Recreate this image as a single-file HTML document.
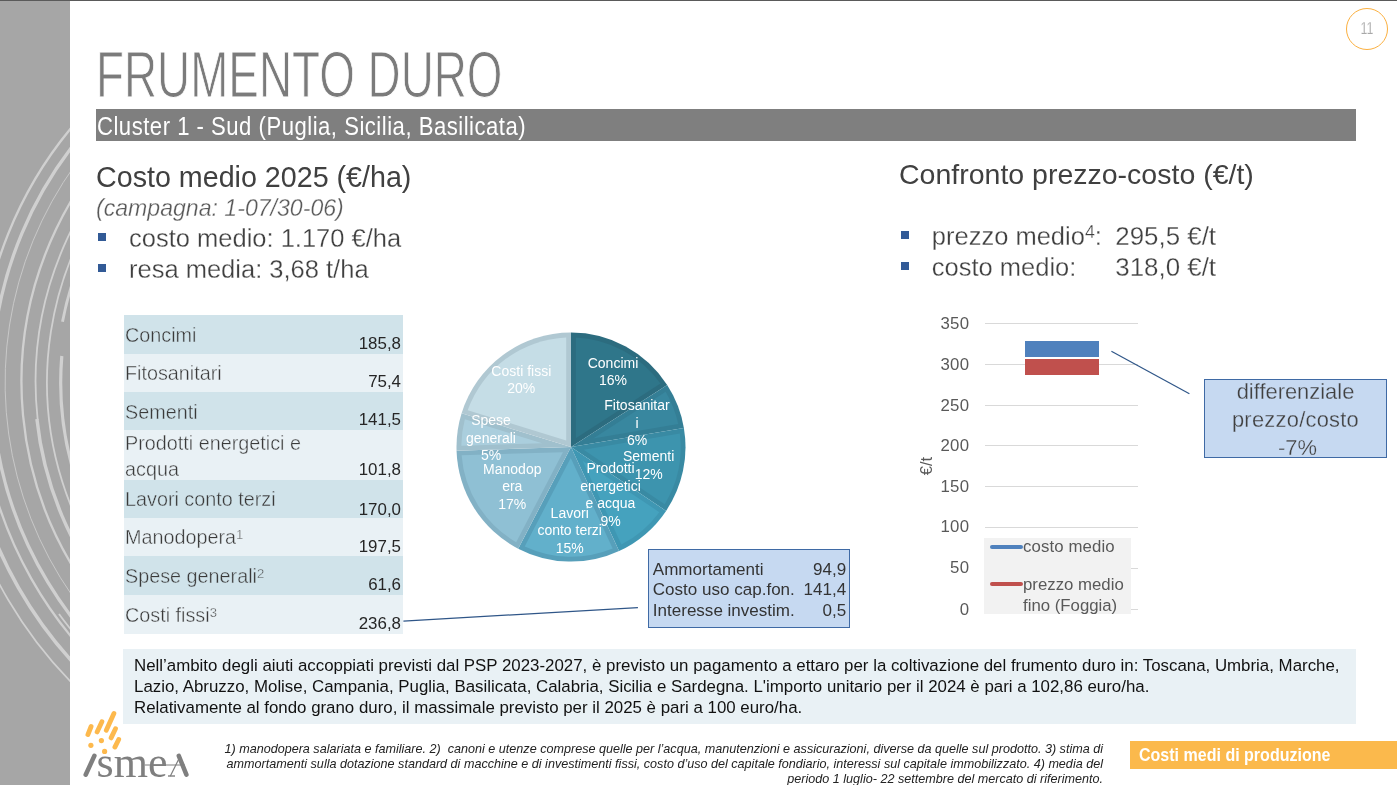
<!DOCTYPE html>
<html lang="it"><head><meta charset="utf-8"><title>Frumento duro</title>
<style>
html,body{margin:0;padding:0;background:#fff;}
body{width:1397px;height:785px;position:relative;overflow:hidden;font-family:"Liberation Sans",sans-serif;}
.t{position:absolute;white-space:pre;margin:0;}
.b{position:absolute;}
sup{font-size:66%;vertical-align:baseline;position:relative;top:-0.36em;}
</style></head><body>

<div class="b" style="left:0;top:0;width:70px;height:785px;background:#a6a6a6;"></div>
<svg class="b" style="left:0;top:0" width="70" height="785" viewBox="0 0 70 785" fill="none" stroke="#d0d0d0">
<path d="M96.8,100.0 A398.3,398.3 0 0 0 137.6,700.0" stroke-width="2.3"/>
<path d="M114.8,100.0 A385.8,385.8 0 0 0 158.9,700.0" stroke-width="3.3"/>
<path d="M134.5,100.0 A372.7,372.7 0 0 0 182.9,700.0" stroke-width="0.8"/>
<path d="M160.4,100.0 A356.3,356.3 0 0 0 216.5,700.0" stroke-width="2.3"/>
<path d="M184.4,100.0 A342.2,342.2 0 0 0 37.7,420.0" stroke-width="1.8"/>
<path d="M36.9,419.0 A342.9,342.9 0 0 0 112.9,600.0" stroke-width="3.4"/>
<path d="M205.4,100.0 A330.8,330.8 0 0 0 128.7,600.0" stroke-width="1.8"/>
<path d="M113.5,200.0 A321.1,321.1 0 0 0 62.5,321.7" stroke-width="2.9"/>
<path d="M61.8,356.0 A317.1,317.1 0 0 0 83.4,500.0" stroke-width="3.2"/>
<path d="M-30.5,450.0 A413.9,413.9 0 0 0 112.5,700.0" stroke-width="3.6"/>
<path d="M-45.7,450.0 A428.9,428.9 0 0 0 113.4,720.0" stroke-width="1.7"/>
<path d="M59.0,614.0 A394.1,394.1 0 0 0 98.2,660.0" stroke-width="1.8"/>
</svg>
<div class="b" style="left:0;top:0;width:1397px;height:1px;background:#5a5a5a;"></div>
<div class="b" style="left:1346px;top:7.5px;width:40px;height:40px;border:1.2px solid #fbb040;border-radius:50%;"></div>
<div class="t" style="top:21.23px;font-size:15.8px;line-height:15.8px;color:#808080;left:1066.9px;width:600px;text-align:center;transform:scaleX(0.8);-webkit-text-stroke:0.4px #fff;">11</div>
<div class="t" style="top:42.95px;font-size:64.2px;line-height:64.2px;color:#7b7b7b;left:96px;transform-origin:0 0;transform:scaleX(0.714);-webkit-text-stroke:1.0px #fff;">FRUMENTO DURO</div>
<div class="b" style="left:96px;top:109px;width:1260px;height:32px;background:#7f7f7f;"></div>
<div class="t" style="top:112.59px;font-size:26px;line-height:26px;color:#fff;left:97.2px;transform-origin:0 0;transform:scaleX(0.85);letter-spacing:0.59px;">Cluster 1 - Sud (Puglia, Sicilia, Basilicata)</div>
<div class="t" style="top:163.03px;font-size:28.67px;line-height:28.67px;color:#404040;left:96px;">Costo medio 2025 (€/ha)</div>
<div class="t" style="top:197.15px;font-size:23.1px;line-height:23.1px;color:#595959;left:96px;font-style:italic;-webkit-text-stroke:0.28px #fff;">(campagna: 1-07/30-06)</div>
<div class="b" style="left:98.2px;top:233px;width:8px;height:8px;background:#325a96;"></div>
<div class="b" style="left:98.2px;top:264px;width:8px;height:8px;background:#325a96;"></div>
<div class="t" style="top:225.71px;font-size:25.5px;line-height:25.5px;color:#404040;left:129px;-webkit-text-stroke:0.28px #fff;">costo medio: 1.170 €/ha</div>
<div class="t" style="top:256.91px;font-size:25.5px;line-height:25.5px;color:#404040;left:129px;-webkit-text-stroke:0.28px #fff;">resa media: 3,68 t/ha</div>
<div class="b" style="left:124px;top:315px;width:279px;height:39px;background:#d0e3ea;"></div>
<div class="t" style="top:326.44px;font-size:19.8px;line-height:19.8px;color:#3a3a3a;left:125px;-webkit-text-stroke:0.4px #d0e3ea;">Concimi</div>
<div class="t" style="top:336.39px;font-size:16.9px;line-height:16.9px;color:#262626;right:996px;text-align:right;">185,8</div>
<div class="b" style="left:124px;top:354px;width:279px;height:38px;background:#e9f1f5;"></div>
<div class="t" style="top:364.24px;font-size:19.8px;line-height:19.8px;color:#3a3a3a;left:125px;-webkit-text-stroke:0.4px #e9f1f5;">Fitosanitari</div>
<div class="t" style="top:374.39px;font-size:16.9px;line-height:16.9px;color:#262626;right:996px;text-align:right;">75,4</div>
<div class="b" style="left:124px;top:392px;width:279px;height:38px;background:#d0e3ea;"></div>
<div class="t" style="top:403.44px;font-size:19.8px;line-height:19.8px;color:#3a3a3a;left:125px;-webkit-text-stroke:0.4px #d0e3ea;">Sementi</div>
<div class="t" style="top:412.39px;font-size:16.9px;line-height:16.9px;color:#262626;right:996px;text-align:right;">141,5</div>
<div class="b" style="left:124px;top:430px;width:279px;height:50px;background:#e9f1f5;"></div>
<div class="t" style="top:434.34px;font-size:19.8px;line-height:19.8px;color:#3a3a3a;left:125px;-webkit-text-stroke:0.4px #e9f1f5;">Prodotti energetici e</div>
<div class="t" style="top:459.54px;font-size:19.8px;line-height:19.8px;color:#3a3a3a;left:125px;-webkit-text-stroke:0.4px #e9f1f5;">acqua</div>
<div class="t" style="top:462.29px;font-size:16.9px;line-height:16.9px;color:#262626;right:996px;text-align:right;">101,8</div>
<div class="b" style="left:124px;top:480px;width:279px;height:38px;background:#d0e3ea;"></div>
<div class="t" style="top:490.04px;font-size:19.8px;line-height:19.8px;color:#3a3a3a;left:125px;-webkit-text-stroke:0.4px #d0e3ea;">Lavori conto terzi</div>
<div class="t" style="top:501.69px;font-size:16.9px;line-height:16.9px;color:#262626;right:996px;text-align:right;">170,0</div>
<div class="b" style="left:124px;top:518px;width:279px;height:38px;background:#e9f1f5;"></div>
<div class="t" style="top:528.04px;font-size:19.8px;line-height:19.8px;color:#3a3a3a;left:125px;-webkit-text-stroke:0.4px #e9f1f5;">Manodopera<sup>1</sup></div>
<div class="t" style="top:539.49px;font-size:16.9px;line-height:16.9px;color:#262626;right:996px;text-align:right;">197,5</div>
<div class="b" style="left:124px;top:556px;width:279px;height:39px;background:#d0e3ea;"></div>
<div class="t" style="top:566.84px;font-size:19.8px;line-height:19.8px;color:#3a3a3a;left:125px;-webkit-text-stroke:0.4px #d0e3ea;">Spese generali<sup>2</sup></div>
<div class="t" style="top:577.29px;font-size:16.9px;line-height:16.9px;color:#262626;right:996px;text-align:right;">61,6</div>
<div class="b" style="left:124px;top:595px;width:279px;height:38.5px;background:#e9f1f5;"></div>
<div class="t" style="top:605.84px;font-size:19.8px;line-height:19.8px;color:#3a3a3a;left:125px;-webkit-text-stroke:0.4px #e9f1f5;">Costi fissi<sup>3</sup></div>
<div class="t" style="top:615.79px;font-size:16.9px;line-height:16.9px;color:#262626;right:996px;text-align:right;">236,8</div>
<svg class="b" style="left:440px;top:320px" width="270" height="260" viewBox="440 320 270 260">
<path d="M571.0,447.1 L571.00,332.60 A114.5,114.5 0 0 1 667.19,384.99 Z" fill="#2c6c7f"/>
<path d="M575.80,438.29 L575.80,337.51 A109.7,109.7 0 0 1 660.47,383.62 Z" fill="#2f768a"/>
<path d="M571.0,447.1 L667.19,384.99 A114.5,114.5 0 0 1 683.88,427.89 Z" fill="#347e95"/>
<path d="M593.26,438.44 L665.67,391.68 A109.7,109.7 0 0 1 678.24,423.98 Z" fill="#38879f"/>
<path d="M571.0,447.1 L683.88,427.89 A114.5,114.5 0 0 1 666.08,510.90 Z" fill="#398aa3"/>
<path d="M583.66,449.81 L679.85,433.45 A109.7,109.7 0 0 1 664.68,504.19 Z" fill="#3d94ae"/>
<path d="M571.0,447.1 L666.08,510.90 A114.5,114.5 0 0 1 619.07,551.02 Z" fill="#3f97b3"/>
<path d="M582.55,460.63 L659.33,512.16 A109.7,109.7 0 0 1 621.37,544.55 Z" fill="#45a2be"/>
<path d="M571.0,447.1 L619.07,551.02 A114.5,114.5 0 0 1 518.19,548.69 Z" fill="#579fba"/>
<path d="M570.75,457.99 L612.65,548.58 A109.7,109.7 0 0 1 524.71,546.55 Z" fill="#62b0cb"/>
<path d="M571.0,447.1 L518.19,548.69 A114.5,114.5 0 0 1 456.56,450.66 Z" fill="#82b1c5"/>
<path d="M562.96,452.15 L516.19,542.13 A109.7,109.7 0 0 1 461.61,455.31 Z" fill="#8fc0d4"/>
<path d="M571.0,447.1 L456.56,450.66 A114.5,114.5 0 0 1 461.60,413.31 Z" fill="#a0c0cd"/>
<path d="M542.10,443.20 L461.31,445.71 A109.7,109.7 0 0 1 464.87,419.35 Z" fill="#aacedd"/>
<path d="M571.0,447.1 L461.60,413.31 A114.5,114.5 0 0 1 571.00,332.60 Z" fill="#b0c8d2"/>
<path d="M566.20,440.59 L467.70,410.17 A109.7,109.7 0 0 1 566.20,337.51 Z" fill="#c5dde6"/>
</svg>
<div class="t" style="top:355.95px;font-size:14px;line-height:14px;color:#fff;left:313px;width:600px;text-align:center;">Concimi</div>
<div class="t" style="top:373.45px;font-size:14px;line-height:14px;color:#fff;left:313px;width:600px;text-align:center;">16%</div>
<div class="t" style="top:398.05px;font-size:14px;line-height:14px;color:#fff;left:337px;width:600px;text-align:center;">Fitosanitar</div>
<div class="t" style="top:415.55px;font-size:14px;line-height:14px;color:#fff;left:337px;width:600px;text-align:center;">i</div>
<div class="t" style="top:433.05px;font-size:14px;line-height:14px;color:#fff;left:337px;width:600px;text-align:center;">6%</div>
<div class="t" style="top:449.05px;font-size:14px;line-height:14px;color:#fff;left:348.70000000000005px;width:600px;text-align:center;">Sementi</div>
<div class="t" style="top:466.55px;font-size:14px;line-height:14px;color:#fff;left:348.70000000000005px;width:600px;text-align:center;">12%</div>
<div class="t" style="top:461.15px;font-size:14px;line-height:14px;color:#fff;left:310.5px;width:600px;text-align:center;">Prodotti</div>
<div class="t" style="top:478.65px;font-size:14px;line-height:14px;color:#fff;left:310.5px;width:600px;text-align:center;">energetici</div>
<div class="t" style="top:496.15px;font-size:14px;line-height:14px;color:#fff;left:310.5px;width:600px;text-align:center;">e acqua</div>
<div class="t" style="top:513.65px;font-size:14px;line-height:14px;color:#fff;left:310.5px;width:600px;text-align:center;">9%</div>
<div class="t" style="top:505.75px;font-size:14px;line-height:14px;color:#fff;left:269.70000000000005px;width:600px;text-align:center;">Lavori</div>
<div class="t" style="top:523.25px;font-size:14px;line-height:14px;color:#fff;left:269.70000000000005px;width:600px;text-align:center;">conto terzi</div>
<div class="t" style="top:540.75px;font-size:14px;line-height:14px;color:#fff;left:269.70000000000005px;width:600px;text-align:center;">15%</div>
<div class="t" style="top:461.65px;font-size:14px;line-height:14px;color:#fff;left:212.29999999999995px;width:600px;text-align:center;">Manodop</div>
<div class="t" style="top:479.15px;font-size:14px;line-height:14px;color:#fff;left:212.29999999999995px;width:600px;text-align:center;">era</div>
<div class="t" style="top:496.65px;font-size:14px;line-height:14px;color:#fff;left:212.29999999999995px;width:600px;text-align:center;">17%</div>
<div class="t" style="top:413.15px;font-size:14px;line-height:14px;color:#fff;left:191px;width:600px;text-align:center;">Spese</div>
<div class="t" style="top:430.65px;font-size:14px;line-height:14px;color:#fff;left:191px;width:600px;text-align:center;">generali</div>
<div class="t" style="top:448.15px;font-size:14px;line-height:14px;color:#fff;left:191px;width:600px;text-align:center;">5%</div>
<div class="t" style="top:363.95px;font-size:14px;line-height:14px;color:#fff;left:221.29999999999995px;width:600px;text-align:center;">Costi fissi</div>
<div class="t" style="top:381.45px;font-size:14px;line-height:14px;color:#fff;left:221.29999999999995px;width:600px;text-align:center;">20%</div>
<svg class="b" style="left:400px;top:600px" width="250" height="30" viewBox="400 600 250 30"><line x1="403.4" y1="621.1" x2="637.9" y2="607.6" stroke="#2f5688" stroke-width="1.2"/></svg>
<div class="b" style="left:648px;top:549px;width:201.5px;height:79px;background:#c6d9f1;border:1px solid #3f6aa5;box-sizing:border-box;"></div>
<div class="t" style="top:560.57px;font-size:17.05px;line-height:17.05px;color:#333;left:652.8px;">Ammortamenti</div>
<div class="t" style="top:560.57px;font-size:17.05px;line-height:17.05px;color:#333;right:550.8px;text-align:right;">94,9</div>
<div class="t" style="top:581.47px;font-size:17.05px;line-height:17.05px;color:#333;left:652.8px;">Costo uso cap.fon.</div>
<div class="t" style="top:581.47px;font-size:17.05px;line-height:17.05px;color:#333;right:550.8px;text-align:right;">141,4</div>
<div class="t" style="top:602.37px;font-size:17.05px;line-height:17.05px;color:#333;left:652.8px;">Interesse investim.</div>
<div class="t" style="top:602.37px;font-size:17.05px;line-height:17.05px;color:#333;right:550.8px;text-align:right;">0,5</div>
<div class="t" style="top:160.07px;font-size:28.5px;line-height:28.5px;color:#404040;left:899px;">Confronto prezzo-costo (€/t)</div>
<div class="b" style="left:900.9px;top:231.2px;width:7.8px;height:7.8px;background:#325a96;"></div>
<div class="b" style="left:900.9px;top:262.0px;width:7.8px;height:7.8px;background:#325a96;"></div>
<div class="t" style="top:224.11px;font-size:25.5px;line-height:25.5px;color:#404040;left:931.8px;-webkit-text-stroke:0.28px #fff;">prezzo medio<sup style="font-size:70%;top:-0.4em">4</sup>:</div>
<div class="t" style="top:223.78px;font-size:25.9px;line-height:25.9px;color:#404040;left:1115.3px;-webkit-text-stroke:0.28px #fff;">295,5 €/t</div>
<div class="t" style="top:255.31px;font-size:25.5px;line-height:25.5px;color:#404040;left:931.8px;-webkit-text-stroke:0.28px #fff;">costo medio:</div>
<div class="t" style="top:254.98px;font-size:25.9px;line-height:25.9px;color:#404040;left:1115.3px;-webkit-text-stroke:0.28px #fff;">318,0 €/t</div>
<div class="b" style="left:985px;top:322.7px;width:153px;height:1px;background:#d9d9d9;"></div>
<div class="t" style="top:315.98px;font-size:16.8px;line-height:16.8px;color:#595959;right:427.70000000000005px;text-align:right;letter-spacing:0.3px;">350</div>
<div class="b" style="left:985px;top:363.6px;width:153px;height:1px;background:#d9d9d9;"></div>
<div class="t" style="top:356.88px;font-size:16.8px;line-height:16.8px;color:#595959;right:427.70000000000005px;text-align:right;letter-spacing:0.3px;">300</div>
<div class="b" style="left:985px;top:404.5px;width:153px;height:1px;background:#d9d9d9;"></div>
<div class="t" style="top:397.78px;font-size:16.8px;line-height:16.8px;color:#595959;right:427.70000000000005px;text-align:right;letter-spacing:0.3px;">250</div>
<div class="b" style="left:985px;top:445.4px;width:153px;height:1px;background:#d9d9d9;"></div>
<div class="t" style="top:437.68px;font-size:16.8px;line-height:16.8px;color:#595959;right:427.70000000000005px;text-align:right;letter-spacing:0.3px;">200</div>
<div class="b" style="left:985px;top:486.3px;width:153px;height:1px;background:#d9d9d9;"></div>
<div class="t" style="top:478.58px;font-size:16.8px;line-height:16.8px;color:#595959;right:427.70000000000005px;text-align:right;letter-spacing:0.3px;">150</div>
<div class="b" style="left:985px;top:527.2px;width:153px;height:1px;background:#d9d9d9;"></div>
<div class="t" style="top:519.48px;font-size:16.8px;line-height:16.8px;color:#595959;right:427.70000000000005px;text-align:right;letter-spacing:0.3px;">100</div>
<div class="b" style="left:985px;top:568.1px;width:153px;height:1px;background:#d9d9d9;"></div>
<div class="t" style="top:560.38px;font-size:16.8px;line-height:16.8px;color:#595959;right:427.70000000000005px;text-align:right;letter-spacing:0.3px;">50</div>
<div class="b" style="left:985px;top:609.0px;width:153px;height:1px;background:#d9d9d9;"></div>
<div class="t" style="top:602.28px;font-size:16.8px;line-height:16.8px;color:#595959;right:427.70000000000005px;text-align:right;letter-spacing:0.3px;">0</div>
<div class="t" style="left:897px;top:456px;width:60px;height:20px;font-size:16.6px;line-height:20px;color:#595959;text-align:center;transform:rotate(-90deg);">€/t</div>
<div class="b" style="left:1025px;top:340.7px;width:74px;height:16.3px;background:#4f81bd;"></div>
<div class="b" style="left:1025px;top:359px;width:74px;height:16px;background:#c0504d;"></div>
<div class="b" style="left:984px;top:537.7px;width:147px;height:76.2px;background:#f2f2f2;"></div>
<div class="b" style="left:990px;top:545px;width:33px;height:3.8px;border-radius:2px;background:#4f81bd;"></div>
<div class="b" style="left:990px;top:582px;width:33px;height:3.8px;border-radius:2px;background:#c0504d;"></div>
<div class="t" style="top:538.78px;font-size:16.8px;line-height:16.8px;color:#595959;left:1023px;letter-spacing:0.12px;">costo medio</div>
<div class="t" style="top:576.98px;font-size:16.8px;line-height:16.8px;color:#595959;left:1023px;">prezzo medio</div>
<div class="t" style="top:597.88px;font-size:16.8px;line-height:16.8px;color:#595959;left:1023px;">fino (Foggia)</div>
<svg class="b" style="left:1100px;top:340px" width="100" height="60" viewBox="1100 340 100 60"><line x1="1111.4" y1="351.3" x2="1189.4" y2="393.8" stroke="#2f5688" stroke-width="1.2"/></svg>
<div class="b" style="left:1204px;top:379px;width:183px;height:79px;background:#c6d9f1;border:1px solid #3f6aa5;box-sizing:border-box;"></div>
<div class="t" style="top:381.16px;font-size:21.9px;line-height:21.9px;color:#404040;left:995.5px;width:600px;text-align:center;-webkit-text-stroke:0.3px #c6d9f1;">differenziale</div>
<div class="t" style="top:409.26px;font-size:21.9px;line-height:21.9px;color:#404040;left:995.5px;width:600px;text-align:center;-webkit-text-stroke:0.3px #c6d9f1;letter-spacing:0.25px;">prezzo/costo</div>
<div class="t" style="top:437.36px;font-size:21.9px;line-height:21.9px;color:#404040;left:997.5px;width:600px;text-align:center;-webkit-text-stroke:0.3px #c6d9f1;">-7%</div>
<div class="b" style="left:123px;top:649px;width:1233px;height:74.5px;background:#e9f1f5;"></div>
<div class="t" style="top:658.03px;font-size:16.86px;line-height:16.86px;color:#111;left:134px;">Nell’ambito degli aiuti accoppiati previsti dal PSP 2023-2027, è previsto un pagamento a ettaro per la coltivazione del frumento duro in: Toscana, Umbria, Marche,</div>
<div class="t" style="top:678.98px;font-size:16.86px;line-height:16.86px;color:#111;left:134px;">Lazio, Abruzzo, Molise, Campania, Puglia, Basilicata, Calabria, Sicilia e Sardegna. L'importo unitario per il 2024 è pari a 102,86 euro/ha.</div>
<div class="t" style="top:699.93px;font-size:16.86px;line-height:16.86px;color:#111;left:134px;">Relativamente al fondo grano duro, il massimale previsto per il 2025 è pari a 100 euro/ha.</div>
<div class="t" style="top:743.33px;font-size:12.6px;line-height:12.6px;color:#222;right:294px;text-align:right;font-style:italic;">1) manodopera salariata e familiare. 2)  canoni e utenze comprese quelle per l’acqua, manutenzioni e assicurazioni, diverse da quelle sul prodotto. 3) stima di</div>
<div class="t" style="top:758.23px;font-size:12.6px;line-height:12.6px;color:#222;right:294px;text-align:right;font-style:italic;">ammortamenti sulla dotazione standard di macchine e di investimenti fissi, costo d’uso del capitale fondiario, interessi sul capitale immobilizzato. 4) media del</div>
<div class="t" style="top:772.73px;font-size:12.6px;line-height:12.6px;color:#222;right:294px;text-align:right;font-style:italic;">periodo 1 luglio- 22 settembre del mercato di riferimento.</div>
<div class="b" style="left:1130px;top:741px;width:267px;height:28px;background:#fbb94c;"></div>
<div class="t" style="top:746.90px;font-size:17.6px;line-height:17.6px;color:#fff;left:1138.8px;font-weight:bold;transform-origin:0 0;transform:scaleX(0.911);">Costi medi di produzione</div>
<svg class="b" style="left:80px;top:705px" width="120" height="80" viewBox="80 705 120 80" role="img" aria-label="ismea"><title>ismea</title>
<g stroke="#fdb94d" stroke-width="4.8" stroke-linecap="round">
<line x1="87.9" y1="734.6" x2="91.1" y2="726.5"/><line x1="97.1" y1="731.9" x2="101.9" y2="721.7"/>
<line x1="106.3" y1="730.3" x2="113.9" y2="713.5"/><line x1="111.1" y1="737.9" x2="115.5" y2="728.7"/>
<line x1="114.9" y1="747.1" x2="118.7" y2="739.5"/></g>
<g fill="#fdb94d"><circle cx="90.9" cy="745.3" r="2.6"/><circle cx="101.4" cy="740.6" r="2.6"/><circle cx="104.6" cy="751.4" r="2.6"/></g>
<g stroke="#7f7f7f" stroke-linecap="round">
<line x1="85.7" y1="774.7" x2="94.4" y2="755.8" stroke-width="4.5"/>
<line x1="178.8" y1="755.8" x2="186.4" y2="774.7" stroke-width="4.5"/>
<line x1="170.5" y1="775.8" x2="178.3" y2="760" stroke-width="1.2"/>
<line x1="168" y1="776" x2="175" y2="776" stroke-width="1.4" stroke-linecap="butt"/>
<line x1="144.7" y1="765" x2="184.8" y2="765" stroke-width="1" stroke-linecap="butt"/>
</g>
<text x="96.6" y="776.7" font-family="'Liberation Serif',serif" font-size="43.5" fill="#7f7f7f" textLength="71" lengthAdjust="spacingAndGlyphs">sme</text>
</svg>
</body></html>
